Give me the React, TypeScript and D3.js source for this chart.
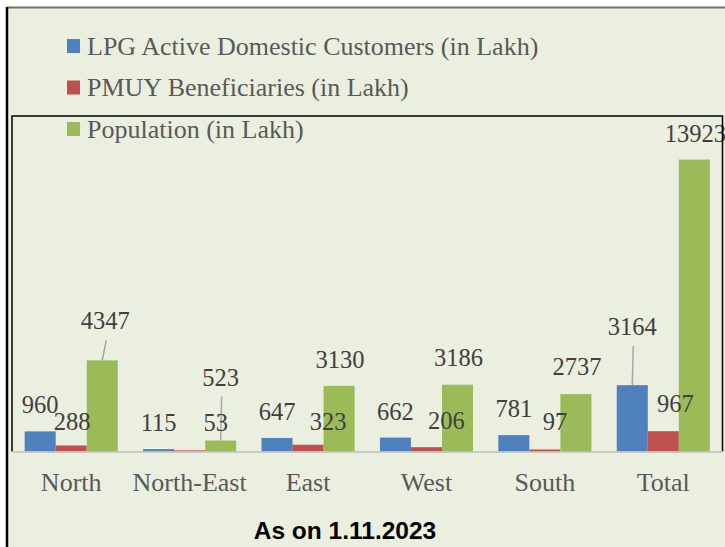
import React from "react";
import * as d3 from "d3";

const categories = ["North", "North-East", "East", "West", "South", "Total"];
const seriesNames = [
  "LPG Active Domestic Customers (in Lakh)",
  "PMUY Beneficiaries (in Lakh)",
  "Population (in Lakh)",
];
const lpgValues = [960, 115, 647, 662, 781, 3164];
const pmuyValues = [288, 53, 323, 206, 97, 967];
const populationValues = [4347, 523, 3130, 3186, 2737, 13923];
const subtitle = "As on 1.11.2023";

// label nudges [dx, dy] relative to bar centre / bar top (manual Excel label placement)
const lpgLabelNudge = [[0, -18], [0, -18], [0, -18], [0, -18], [0, -18], [0, -50]];
const pmuyLabelNudge = [[1, -15], [26, -19], [20, -15], [20, -18], [10, -19], [12, -19]];
const popLabelNudge = [[3, -31], [0, -55], [1, -18], [1, -19], [1, -19], [1, -17.5]];

const colors = ["#4F81BD", "#C0504D", "#9BBB59"];
const W = 725;
const H = 547;
const serif = "'Liberation Serif', 'Times New Roman', serif";

export default function App() {
  const plotLeft = 12;
  const plotRight = 722.5;
  const plotTop = 116;
  const baseY = 451.5;

  const x0 = d3
    .scaleBand<string>()
    .domain(categories)
    .range([plotLeft, plotRight])
    .paddingInner(0.214)
    .paddingOuter(0.107);
  const x1 = d3
    .scaleBand<string>()
    .domain(seriesNames)
    .range([0, x0.bandwidth()]);
  const y = d3.scaleLinear().domain([0, 16000]).range([baseY, plotTop]);

  const allValues = [lpgValues, pmuyValues, populationValues];
  const nudges = [lpgLabelNudge, pmuyLabelNudge, popLabelNudge];

  const bars: React.ReactNode[] = [];
  const labels: React.ReactNode[] = [];
  const leaders: React.ReactNode[] = [];
  allValues.forEach((vals, s) => {
    vals.forEach((v, i) => {
      const bx = (x0(categories[i]) ?? 0) + (x1(seriesNames[s]) ?? 0);
      const bw = x1.bandwidth();
      const top = y(v);
      bars.push(
        <rect
          key={`b${s}-${i}`}
          x={bx}
          y={top}
          width={bw}
          height={baseY - top}
          fill={colors[s]}
        />
      );
      const [dx, dy] = nudges[s][i];
      const cx = bx + bw / 2;
      const lx = cx + dx;
      const ly = top + dy;
      labels.push(
        <text
          key={`l${s}-${i}`}
          x={lx}
          y={ly}
          textAnchor="middle"
          fontFamily={serif}
          fontSize={24.5}
          fill="#404040"
        >
          {v}
        </text>
      );
      if (dy < -25) {
        leaders.push(
          <line
            key={`ld${s}-${i}`}
            x1={lx + 1}
            y1={ly + 11}
            x2={cx}
            y2={top}
            stroke="#A6A6A6"
            strokeWidth={1.5}
          />
        );
      }
    });
  });

  return (
    <svg
      width={W}
      height={H}
      style={{ position: "absolute", left: 0, top: 0, background: "#fff" }}
    >
      {/* outer chart area */}
      <rect x={7} y={7.5} width={W + 20} height={H + 20} fill="#EBEFDF" />
      <line x1={7} y1={7.5} x2={W} y2={7.5} stroke="#6f6f6f" strokeWidth={2} />
      <line x1={7} y1={7} x2={7} y2={H} stroke="#000" strokeWidth={2.5} />

      {/* legend */}
      {seriesNames.map((name, s) => (
        <g key={name} transform={`translate(67, ${46 + s * 41.5})`}>
          <rect x={0} y={-7} width={13} height={14} fill={colors[s]} />
          <text
            x={20}
            y={8.5}
            fontFamily={serif}
            fontSize={26}
            fill="#595959"
          >
            {name}
          </text>
        </g>
      ))}

      {bars}
      {leaders}
      {labels}

      {/* plot area border (left, top, right) */}
      <path
        d={`M${plotLeft},${baseY} V${plotTop} H${plotRight} V${baseY}`}
        fill="none"
        stroke="#000"
        strokeWidth={1.5}
      />

      {/* baseline axis */}
      <line
        x1={plotLeft}
        y1={baseY + 0.5}
        x2={plotRight}
        y2={baseY + 0.5}
        stroke="#BFBFBF"
        strokeWidth={1.5}
      />

      {/* category labels */}
      {categories.map((c) => (
        <text
          key={c}
          x={(x0(c) ?? 0) + x0.bandwidth() / 2}
          y={491}
          textAnchor="middle"
          fontFamily={serif}
          fontSize={26}
          fill="#595959"
        >
          {c}
        </text>
      ))}

      <text
        x={345}
        y={539}
        textAnchor="middle"
        fontFamily="'Liberation Sans', Arial, sans-serif"
        fontWeight="bold"
        fontSize={24.5}
        fill="#000"
      >
        {subtitle}
      </text>
    </svg>
  );
}
